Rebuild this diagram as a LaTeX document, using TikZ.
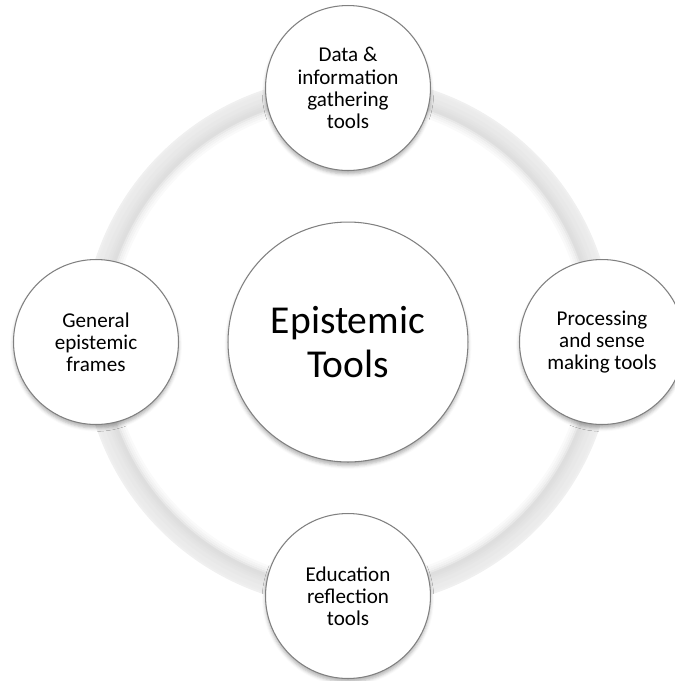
\documentclass[tikz,border=0pt]{standalone}
\usepackage{fontspec}
\setmainfont{Carlito}
\usetikzlibrary{shadows.blur}

\begin{document}
\begin{tikzpicture}[x=0.02cm, y=-0.02cm,
    hub/.style={circle, draw=black!50, line width=0.6pt, fill=white,
                minimum size=4.8cm, inner sep=0pt, align=center,
                font=\fontsize{22.5}{24.6}\selectfont,
                blur shadow={shadow xshift=0pt, shadow yshift=-2pt,
                             shadow opacity=30}},
    spoke/.style={circle, draw=black!50, line width=0.6pt, fill=white,
                  minimum size=3.3cm, inner sep=0pt, align=center,
                  font=\fontsize{12}{12.6}\selectfont,
                  blur shadow={shadow xshift=0pt, shadow yshift=-2pt,
                               shadow opacity=30}},
  ]
  \useasboundingbox (0,0) rectangle (675,681);
  \clip (0,0) rectangle (675,681);
  \coordinate (c) at (348,342);

  % grey track joining the outer circles, a bit darker towards the inside
  \foreach \r/\k in {264/6,262/7,260/8,258/8,256/9,254/9,252/10,250/11,248/12,246/13}
    \draw[black!\k, line width=2.1pt] (c) circle[radius=\r];
  % soft shadow just inside the track
  \foreach \r/\k in {244/9,242/6,240/4,238/2}
    \draw[black!\k, line width=1.2pt] (c) circle[radius=\r];

  \node[hub] (core) at (c) {Epistemic\\Tools};

  \node[spoke] (data) at (348,88) {Data \&\\information\\gathering\\tools};
  \node[spoke] (proc) at (602,342) {Processing\\and sense\\making tools};
  \node[spoke] (educ) at (348,596) {Education\\reflection\\tools};
  \node[spoke] (frames) at (96,342) {General\\epistemic\\frames};
\end{tikzpicture}
\end{document}
